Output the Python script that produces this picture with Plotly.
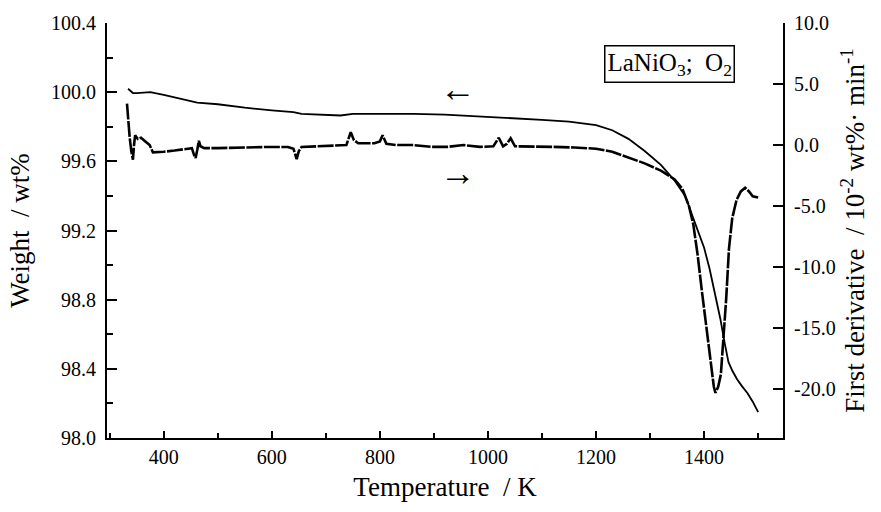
import plotly.graph_objects as go

# Thermogravimetric run: weight (left axis) and its first derivative (right axis)
temp_weight = [334, 338, 343, 350, 375, 400, 430, 462, 500, 550, 600, 640, 655, 700,
               727, 750, 800, 862, 920, 986, 1050, 1100, 1150, 1200, 1230, 1260, 1290,
               1320, 1345, 1365, 1380, 1390, 1400, 1410, 1420, 1430, 1438, 1445, 1452,
               1461, 1470, 1480, 1490, 1500]
weight = [100.02, 100.01, 99.995, 99.995, 100.0, 99.985, 99.965, 99.94, 99.93, 99.91,
          99.895, 99.885, 99.875, 99.87, 99.865, 99.875, 99.875, 99.875, 99.87, 99.86,
          99.85, 99.84, 99.83, 99.81, 99.78, 99.73, 99.66, 99.58, 99.49, 99.40, 99.27,
          99.18, 99.10, 98.98, 98.84, 98.69, 98.55, 98.44, 98.39, 98.34, 98.30, 98.26,
          98.21, 98.15]

temp_deriv = [332, 334, 337, 340, 343, 345, 347, 352, 358, 366, 374, 380, 386, 400, 420,
              440, 452, 456, 459, 462, 465, 468, 475, 500, 540, 590, 630, 640, 646, 650,
              655, 680, 720, 738, 746, 752, 760, 790, 800, 805, 812, 830, 860, 895, 925,
              955, 985, 1010, 1020, 1028, 1035, 1042, 1050, 1080, 1120, 1160, 1200, 1230,
              1260, 1290, 1320, 1345, 1360, 1372, 1380, 1388, 1396, 1405, 1412, 1418,
              1421, 1426, 1431, 1436, 1441, 1446, 1452, 1460, 1468, 1476, 1483, 1490, 1500]
deriv = [3.4, 2.0, 0.6, -0.5, -1.2, 0.0, 0.8, 0.5, 0.6, 0.3, 0.0, -0.6, -0.6, -0.55,
         -0.45, -0.3, -0.25, -0.8, -1.05, -0.4, 0.35, -0.1, -0.25, -0.25, -0.2, -0.16,
         -0.16, -0.3, -1.15, -0.5, -0.16, -0.1, 0.0, 0.0, 1.05, 0.4, 0.15, 0.15, 0.3,
         0.8, 0.1, 0.0, 0.0, -0.15, -0.15, 0.0, -0.15, -0.1, 0.6, -0.1, 0.1, 0.55, -0.1,
         -0.1, -0.15, -0.2, -0.3, -0.55, -1.0, -1.5, -2.1, -2.8, -3.6, -5.0, -6.5, -9.0,
         -12.0, -15.3, -18.0, -19.8, -20.3, -19.8, -18.8, -16.0, -12.5, -8.5, -6.0, -4.5,
         -3.8, -3.5, -3.8, -4.2, -4.3]

weight_ticks = [98.0, 98.4, 98.8, 99.2, 99.6, 100.0, 100.4]
deriv_ticks = [-20, -15, -10, -5, 0, 5, 10]
deriv_tick_text = ["-20.0", "-15.0", "-10.0", "-5.0", "0.0", "5.0", "10.0"]

FONT = "Liberation Serif, Times New Roman, serif"
TITLE_SIZE = 27

fig = go.Figure()
fig.add_trace(go.Scatter(x=temp_weight, y=weight, mode="lines",
                         line=dict(color="black", width=1.8), yaxis="y"))
fig.add_trace(go.Scatter(x=temp_deriv, y=deriv, mode="lines",
                         line=dict(color="black", width=2.6, dash="16px,1.5px"),
                         yaxis="y2"))

axis_common = dict(showline=True, linecolor="black", linewidth=2, ticks="inside",
                   tickcolor="black", tickwidth=1.5, showgrid=False, zeroline=False,
                   tickfont=dict(family=FONT, size=20, color="black"))

fig.update_layout(
    width=881, height=512,
    margin=dict(l=107, r=98, t=20, b=74),
    paper_bgcolor="white", plot_bgcolor="white",
    showlegend=False,
    font=dict(family=FONT, color="black"),
    xaxis=dict(range=[295, 1546], tick0=0, dtick=200, ticklen=7,
               minor=dict(dtick=100, ticks="inside", ticklen=5, tickcolor="black"),
               title=dict(text="Temperature  / K",
                          font=dict(family=FONT, size=TITLE_SIZE), standoff=10),
               **axis_common),
    yaxis=dict(range=[98.0, 100.4], tickvals=weight_ticks, tickformat=".1f", ticklen=10,
               ticklabelstandoff=5,
               minor=dict(dtick=0.2, ticks="inside", ticklen=6, tickcolor="black"),
               title=dict(text="Weight  / wt%",
                          font=dict(family=FONT, size=TITLE_SIZE), standoff=14),
               **axis_common),
    yaxis2=dict(range=[-24, 10], overlaying="y", side="right", tickvals=deriv_ticks,
                ticktext=deriv_tick_text, ticklen=10, ticklabelstandoff=5,
                title=dict(text="First derivative  / 10<sup>-2</sup> wt%· min<sup>-1</sup>",
                           font=dict(family=FONT, size=TITLE_SIZE), standoff=10),
                **axis_common),
)

# direction arrows pointing to the relevant axis
fig.add_annotation(x=945, y=100.02, xref="x", yref="y", text="←", showarrow=False,
                   font=dict(family=FONT, size=36, color="black"))
fig.add_annotation(x=945, y=99.53, xref="x", yref="y", text="→", showarrow=False,
                   font=dict(family=FONT, size=36, color="black"))

# sample / atmosphere label
fig.add_annotation(x=1457, y=100.165, xref="x", yref="y", xanchor="right",
                   yanchor="middle", text="LaNiO<sub>3</sub>;  O<sub>2</sub>",
                   showarrow=False, bordercolor="black", borderwidth=1.5, borderpad=2,
                   bgcolor="white", font=dict(family=FONT, size=25, color="black"))

fig.write_html("out.html")
